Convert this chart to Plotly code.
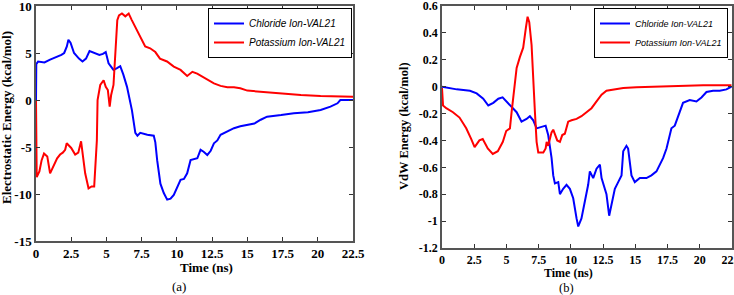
import plotly.graph_objects as go

# ---------------- data ----------------
# (a) Electrostatic energy
a_cl_t = [0, 0.02, 0.15, 0.6, 1.0, 1.5, 1.8, 2.0, 2.19, 2.3, 2.45, 2.7, 3.05, 3.3, 3.55, 3.8, 4.15, 4.5, 4.75, 4.95,
          5.15, 5.5, 5.75, 5.98, 6.2, 6.46, 6.81, 7.05, 7.2, 7.4, 7.9, 8.36, 8.47, 8.6, 8.83, 9.07, 9.31, 9.55, 9.78,
          10.02, 10.26, 10.5, 10.73, 10.97, 11.2, 11.45, 11.68, 11.9, 12.16, 12.4, 12.63, 12.87, 13.1, 13.6, 14.05,
          14.5, 15.0, 15.5, 15.95, 16.4, 17.4, 18.3, 19.3, 20.2, 20.9, 21.4, 21.6, 22.5]
a_cl_v = [0, 3.8, 4.1, 4.0, 4.3, 4.6, 4.8, 5.0, 5.7, 6.4, 6.1, 5.0, 4.4, 4.1, 4.4, 5.2, 5.0, 4.8, 4.9, 5.1,
          3.9, 3.2, 3.4, 3.6, 2.7, 1.4, -1.1, -3.5, -3.8, -3.5, -3.7, -3.8, -4.5, -6.4, -8.9, -9.9, -10.6, -10.5, -10.1,
          -9.2, -8.5, -8.4, -7.8, -6.4, -6.3, -6.2, -5.3, -5.5, -5.85, -5.4, -4.6, -4.3, -3.7, -3.3, -3.0,
          -2.8, -2.66, -2.5, -2.1, -1.77, -1.6, -1.4, -1.3, -1.06, -0.7, -0.35, 0, 0]

a_k_t = [0, 0.02, 0.05, 0.24, 0.4, 0.57, 0.8, 1.0, 1.23, 1.5, 1.71, 1.9, 2.07, 2.18, 2.5, 2.78, 3.0, 3.2, 3.49, 3.73,
         3.95, 4.13, 4.32, 4.37, 4.56, 4.68, 4.8, 4.95, 5.1, 5.23, 5.33, 5.5, 5.62, 5.77, 5.89, 6.1, 6.34, 6.58, 6.8,
         7.05, 7.4, 7.75, 8.1, 8.47, 8.8, 9.3, 9.78, 10.26, 10.73, 11.1, 11.44, 11.92, 12.63, 13.1, 13.58, 14.05,
         14.5, 15.0, 15.95, 16.9, 17.85, 18.8, 20.2, 21.2, 22.5]
a_k_v = [0, -6.4, -8.2, -7.6, -6.4, -5.7, -6.0, -7.8, -7.0, -6.2, -5.8, -5.6, -5.3, -4.6, -5.1, -5.8, -5.6, -4.4, -7.8, -9.4,
         -9.2, -9.2, -4.3, 0, 1.6, 1.8, 2.1, 1.4, 1.06, -0.7, 0.5, 1.6, 5.3, 8.5, 9.0, 9.2, 8.9, 9.2, 8.5,
         7.8, 6.7, 5.7, 5.5, 5.1, 4.4, 4.1, 3.55, 3.2, 2.55, 3.0, 2.8, 2.4, 1.77, 1.5, 1.35, 1.35,
         1.24, 1.0, 0.89, 0.71, 0.64, 0.53, 0.43, 0.43, 0.35]

# (b) VdW energy
b_cl_t = [0, 1.14, 2.17, 2.69, 3.2, 3.59, 3.98, 4.37, 4.7, 5.01, 5.4, 5.79, 6.17, 6.56, 6.82, 7.08, 7.34, 7.73, 8.04,
          8.24, 8.37, 8.5, 8.63, 8.76, 9.02, 9.15, 9.4, 9.66, 9.92, 10.18, 10.44, 10.57, 10.82, 11.08, 11.34, 11.47,
          11.73, 11.99, 12.25, 12.38, 12.64, 12.76, 12.97, 13.15, 13.41, 13.67, 13.93, 14.06, 14.31, 14.44, 14.7,
          14.96, 15.35, 15.86, 16.25, 16.64, 17.16, 17.42, 17.55, 17.8, 18.06, 18.45, 18.7, 19.22, 19.74, 20.13,
          20.52, 21.03, 21.55, 22.07, 22.46]
b_cl_v = [0, -0.02, -0.03, -0.05, -0.09, -0.14, -0.12, -0.09, -0.08, -0.11, -0.15, -0.19, -0.26, -0.24, -0.22, -0.25,
          -0.31, -0.3, -0.29, -0.36, -0.44, -0.53, -0.66, -0.72, -0.71, -0.8, -0.76, -0.73, -0.76, -0.83, -0.98, -1.04,
          -0.98, -0.86, -0.73, -0.63, -0.68, -0.61, -0.58, -0.68, -0.76, -0.8, -0.96, -0.88, -0.76, -0.71, -0.66,
          -0.48, -0.44, -0.46, -0.66, -0.71, -0.68, -0.68, -0.66, -0.63, -0.53, -0.46, -0.41, -0.31, -0.29, -0.19,
          -0.12, -0.1, -0.11, -0.08, -0.04, -0.03, -0.03, -0.02, 0]

b_k_t = [0, 0.08, 0.33, 0.85, 1.36, 1.88, 2.27, 2.53, 2.9, 3.16, 3.55, 3.94, 4.33, 4.72, 4.98, 5.27, 5.4, 5.66, 5.79,
         6.04, 6.3, 6.51, 6.64, 6.77, 6.95, 7.21, 7.34, 7.47, 7.86, 8.04, 8.12, 8.24, 8.5, 8.63, 8.76, 8.94, 9.15,
         9.33, 9.53, 9.79, 10.05, 10.44, 10.82, 11.21, 11.6, 11.99, 12.38, 12.76, 13.28, 14.06, 15.09, 16.38,
         17.67, 18.97, 20.26, 22.46]
b_k_v = [-0.01, -0.14, -0.16, -0.19, -0.23, -0.31, -0.39, -0.45, -0.4, -0.39, -0.46, -0.5, -0.48, -0.41, -0.33, -0.31,
         -0.19, 0.01, 0.14, 0.22, 0.29, 0.44, 0.52, 0.48, 0.31, -0.19, -0.41, -0.49, -0.49, -0.46, -0.41, -0.44,
         -0.34, -0.32, -0.36, -0.4, -0.41, -0.36, -0.35, -0.26, -0.25, -0.24, -0.22, -0.19, -0.16, -0.11, -0.06,
         -0.03, -0.02, -0.01, -0.005, 0, 0, 0.005, 0.01, 0.01]

x_ticks = [0, 2.5, 5, 7.5, 10, 12.5, 15, 17.5, 20, 22.5]
x_labels = ["0", "2.5", "5", "7.5", "10", "12.5", "15", "17.5", "20", "22.5"]
a_y_ticks = [10, 5, 0, -5, -10, -15]
a_y_labels = ["10", "5", "0", "-5", "-10", "-15"]
b_y_ticks = [0.6, 0.4, 0.2, 0, -0.2, -0.4, -0.6, -0.8, -1, -1.2]
b_y_labels = ["0.6", "0.4", "0.2", "0", "-0.2", "-0.4", "-0.6", "-0.8", "-1", "-1.2"]

names = ["Chloride Ion-VAL21", "Potassium Ion-VAL21"]
colors = ["#0000ff", "#ff0000"]

# ---------------- figure ----------------
fig = go.Figure()
fig.add_trace(go.Scatter(x=a_cl_t, y=a_cl_v, mode="lines", name=names[0], line=dict(color=colors[0], width=2),
                         xaxis="x", yaxis="y", legend="legend"))
fig.add_trace(go.Scatter(x=a_k_t, y=a_k_v, mode="lines", name=names[1], line=dict(color=colors[1], width=2),
                         xaxis="x", yaxis="y", legend="legend"))
fig.add_trace(go.Scatter(x=b_cl_t, y=b_cl_v, mode="lines", name=names[0], line=dict(color=colors[0], width=2),
                         xaxis="x2", yaxis="y2", legend="legend2"))
fig.add_trace(go.Scatter(x=b_k_t, y=b_k_v, mode="lines", name=names[1], line=dict(color=colors[1], width=2),
                         xaxis="x2", yaxis="y2", legend="legend2"))


def axis_style(size):
    return dict(showgrid=False, zeroline=False, showline=True, linecolor="#555555", linewidth=1.5,
                mirror="ticks", ticks="inside", ticklen=4, tickcolor="#333333",
                tickfont=dict(family="Liberation Serif", size=size, color="black", weight="bold"),
                automargin=False, ticklabeloverflow="allow")


W, H = 734, 295
fig.update_layout(
    width=W, height=H,
    margin=dict(l=0, r=0, t=0, b=0, autoexpand=False),
    paper_bgcolor="white", plot_bgcolor="white",
    xaxis=dict(domain=[36 / W, 353 / W], range=[0, 22.5], tickvals=x_ticks, ticktext=x_labels,
               anchor="y", **axis_style(13)),
    yaxis=dict(domain=[1 - 241 / H, 1 - 6 / H], range=[-15, 10], tickvals=a_y_ticks, ticktext=a_y_labels,
               anchor="x", **axis_style(13)),
    xaxis2=dict(domain=[442 / W, 732 / W], range=[0, 22.5], tickvals=x_ticks, ticktext=x_labels,
                anchor="y2", **axis_style(12)),
    yaxis2=dict(domain=[1 - 248 / H, 1 - 6 / H], range=[-1.2, 0.6], tickvals=b_y_ticks, ticktext=b_y_labels,
                anchor="x2", **axis_style(12)),
    legend=dict(x=352 / W, y=1 - 8 / H, xanchor="right", yanchor="top", bgcolor="white",
                bordercolor="black", borderwidth=1, itemwidth=30, tracegroupgap=0,
                font=dict(family="Liberation Sans", size=10, style="italic", color="black")),
    legend2=dict(x=728 / W, y=1 - 8 / H, xanchor="right", yanchor="top", bgcolor="white",
                 bordercolor="black", borderwidth=1, itemwidth=30, tracegroupgap=0,
                 font=dict(family="Liberation Sans", size=9, style="italic", color="black")),
    showlegend=True,
)

ann = [
    dict(text="Electrostatic Energy (kcal/mol)", x=6, y=118, textangle=-90, size=13, bold=True),
    dict(text="Time (ns)", x=206, y=267, size=13, bold=True),
    dict(text="(a)", x=179, y=286, size=13, bold=False),
    dict(text="VdW Energy (kcal/mol)", x=404, y=126, textangle=-90, size=12.5, bold=True),
    dict(text="Time (ns)", x=568, y=273, size=12, bold=True),
    dict(text="(b)", x=566, y=288, size=12.5, bold=False),
]
for a in ann:
    fig.add_annotation(text=a["text"], x=a["x"] / W, y=1 - a["y"] / H, xref="paper", yref="paper",
                       showarrow=False, textangle=a.get("textangle", 0),
                       font=dict(family="Liberation Serif", size=a["size"], color="black",
                                 weight="bold" if a["bold"] else "normal"),
                       xanchor="center", yanchor="middle")

# remove the page's default 8px body margin so the figure fills the window exactly
fig.write_html("out.html", config={"displayModeBar": False},
               post_script="document.body.style.margin='0';document.body.style.overflow='hidden';")
